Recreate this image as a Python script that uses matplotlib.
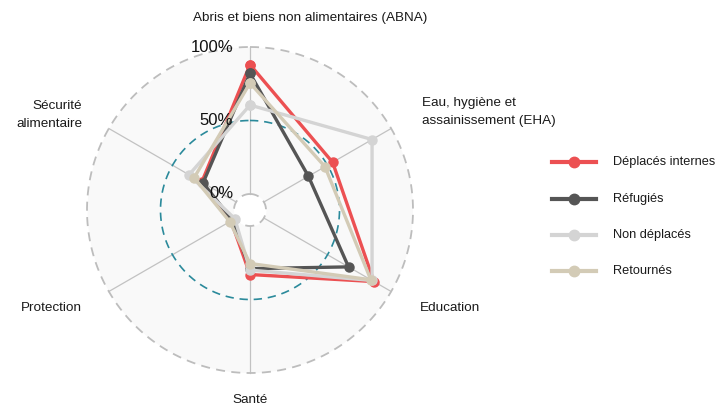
import numpy as np
import matplotlib
matplotlib.use("Agg")
import matplotlib.pyplot as plt
from matplotlib.lines import Line2D
from matplotlib.transforms import ScaledTranslation

plt.rcParams['font.family'] = ['Liberation Sans', 'DejaVu Sans']

# donnees
secteurs = ["ABNA", "EHA", "Education", "Santé", "Protection", "Sécurité alimentaire"]
deplaces_internes = [88, 54, 86.5, 33, 4, 27]
refugies = [82, 35, 66.5, 29, 3, 26]
non_deplaces = [60.5, 85, 85, 30, 1, 37]
retournes = [75.5, 48, 84, 25.5, 5, 33]

groupes = ["Déplacés internes", "Réfugiés", "Non déplacés", "Retournés"]
couleurs = ["#ec5052", "#555555", "#d4d4d4", "#d3cbb6"]
ticks = [0, 50, 100]
tick_labels = ["0%", "50%", "100%"]

W, H = 726, 409
fig = plt.figure(figsize=(W / 100, H / 100), dpi=100)

# centre (250, 210), rayon 163 px
ax = fig.add_axes([87 / W, 36 / H, 326 / W, 326 / H], projection='polar')
ax.set_theta_zero_location('N')
ax.set_theta_direction(-1)
ax.set_ylim(0, 100)
ax.set_rorigin(-10.9)
ax.set_axis_off()

angles = np.arange(len(secteurs)) * 2 * np.pi / len(secteurs)
tt = np.linspace(0, 2 * np.pi, 400)

# fond
ax.fill_between(tt, 0, 100, color='#f9f9f9', lw=0, zorder=0)

# rayons
for a in angles:
    ax.plot([a, a], [0, 100], color='#c2c2c2', lw=0.9, zorder=1, clip_on=False)

# cercles
ax.plot(tt, np.full_like(tt, 100), color='#bdbdbd', lw=1.3, ls=(0, (5, 3.5)),
        zorder=1, clip_on=False)
ax.plot(tt, np.full_like(tt, 0), color='#bdbdbd', lw=1.3, ls=(0, (5, 3.5)),
        zorder=1, clip_on=False)
ax.plot(tt, np.full_like(tt, 50), color='#2b8a9b', lw=1.2, ls=(0, (5, 3.5)),
        zorder=1, clip_on=False)

# series
series = [deplaces_internes, refugies, non_deplaces, retournes]
for vals, c in zip(series, couleurs):
    v = list(vals) + [vals[0]]
    a = list(angles) + [angles[0]]
    ax.plot(a, v, color=c, lw=2.4, marker='o', markersize=6.5, zorder=3,
            solid_joinstyle='round', clip_on=False)

# etiquettes radiales
off = ScaledTranslation(-17 / 100, 0, fig.dpi_scale_trans)
for r, lab in zip(ticks, tick_labels):
    ax.text(0, r, lab, transform=ax.transData + off, ha='right', va='center',
            fontsize=12, color='#111111', zorder=5)

# etiquettes des secteurs
def ftext(x, y, s, **kw):
    fig.text(x / W, 1 - y / H, s, fontsize=9.7, color='#1a1a1a', va='center', **kw)

ftext(193, 18, "Abris et biens non alimentaires (ABNA)", ha='left')
ftext(422.5, 112, "Eau, hygiène et\nassainissement (EHA)", ha='left',
      multialignment='left', linespacing=1.62)
ftext(420, 308, "Education", ha='left')
ftext(250, 400, "Santé", ha='center')
ftext(81.5, 308, "Protection", ha='right')
ftext(82, 115, "Sécurité\nalimentaire", ha='right', multialignment='right',
      linespacing=1.62)

# legende
ys = [162, 199, 235, 271]
for g, c, y in zip(groupes, couleurs, ys):
    fy = 1 - y / H
    fig.add_artist(Line2D([552 / W, 596 / W], [fy, fy], color=c, lw=3,
                          transform=fig.transFigure))
    fig.add_artist(Line2D([574 / W], [fy], color=c, marker='o', markersize=7.5,
                          lw=0, transform=fig.transFigure))
    fig.text(613 / W, fy, g, fontsize=9.2, color='#1a1a1a', va='center', ha='left')

fig.savefig("out.png", dpi=100)
